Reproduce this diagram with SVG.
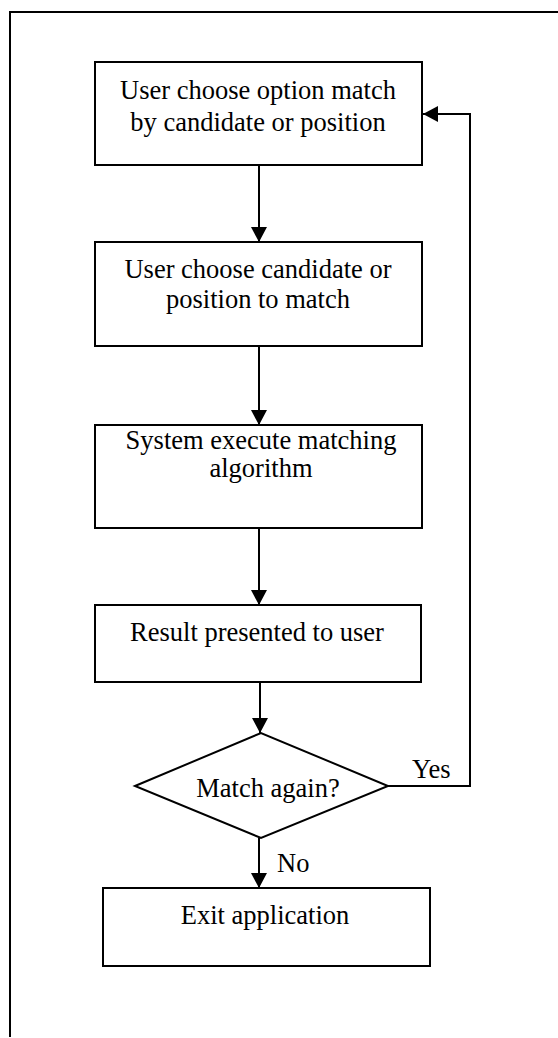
<svg xmlns="http://www.w3.org/2000/svg" width="558" height="1038" viewBox="0 0 558 1038">
<style>
.box{fill:#fff;stroke:#000;stroke-width:2}
.ln{fill:none;stroke:#000;stroke-width:2}
text{font-family:"Liberation Serif","Times New Roman",serif;font-size:26.5px;fill:#000}
.c{text-anchor:middle}
</style>
<defs>
<marker id="ah" markerUnits="userSpaceOnUse" markerWidth="16" markerHeight="16" refX="15" refY="8" orient="auto">
<path d="M0,0 L15,8 L0,16 Z" fill="#000"/>
</marker>
</defs>
<rect width="558" height="1038" fill="#fff"/>
<path id="frame" class="ln" d="M10,1037 V12 H558"/>
<g id="connectors">
<path class="ln" d="M259,165 V242" marker-end="url(#ah)"/>
<path class="ln" d="M259,346 V425" marker-end="url(#ah)"/>
<path class="ln" d="M259,528 V605" marker-end="url(#ah)"/>
<path class="ln" d="M260,682 V733" marker-end="url(#ah)"/>
<path class="ln" d="M259,838 V888" marker-end="url(#ah)"/>
<path class="ln" d="M388,786 H470 V114 H423" marker-end="url(#ah)"/>
<text x="412" y="778">Yes</text>
<text x="277" y="872">No</text>
</g>
<g id="n1">
<rect class="box" x="95" y="62" width="327" height="103"/>
<text class="c" x="258" y="99">User choose option match</text>
<text class="c" x="258" y="131">by candidate or position</text>
</g>
<g id="n2">
<rect class="box" x="95" y="242" width="327" height="104"/>
<text class="c" x="258" y="278">User choose candidate or</text>
<text class="c" x="258" y="308">position to match</text>
</g>
<g id="n3">
<rect class="box" x="95" y="425" width="327" height="103"/>
<text class="c" x="261" y="449">System execute matching</text>
<text class="c" x="261" y="477">algorithm</text>
</g>
<g id="n4">
<rect class="box" x="95" y="605" width="326" height="77"/>
<text class="c" x="257" y="641">Result presented to user</text>
</g>
<g id="n5">
<polygon class="box" points="135,786 261,733 388,786 261,838"/>
<text class="c" x="268" y="797">Match again?</text>
</g>
<g id="n6">
<rect class="box" x="103" y="888" width="327" height="78"/>
<text class="c" x="265" y="924">Exit application</text>
</g>
</svg>
